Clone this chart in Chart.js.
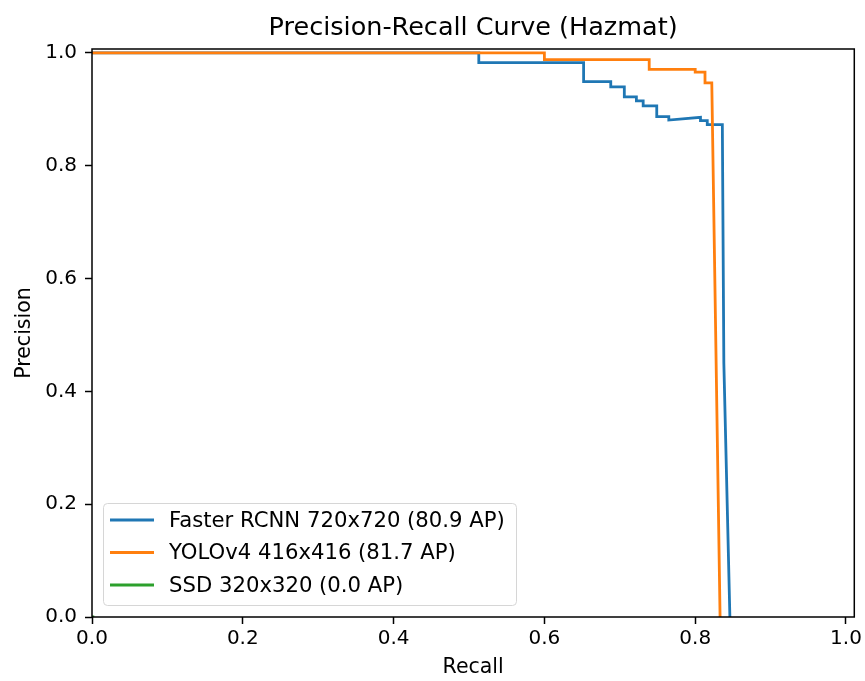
<!DOCTYPE html>
<html>
<head>
<meta charset="utf-8">
<script src="https://cdn.jsdelivr.net/npm/chart.js@4.4.1/dist/chart.umd.min.js"></script>
<style>
  body { margin: 0; background: #fff; }
  canvas { display: block; }
</style>
</head>
<body>
<canvas id="prChart" width="865" height="681"></canvas>
<script>
// Precision-Recall Curve (Hazmat)
const chartTitle = 'Precision-Recall Curve (Hazmat)';
const seriesLabels = ['Faster RCNN 720x720 (80.9 AP)', 'YOLOv4 416x416 (81.7 AP)', 'SSD 320x320 (0.0 AP)'];
const seriesColors = ['#1f77b4', '#ff7f0e', '#2ca02c'];

const fasterRecall = [0, 0.513, 0.513, 0.652, 0.652, 0.688, 0.688, 0.706, 0.706, 0.722, 0.722, 0.731, 0.731, 0.749, 0.749, 0.765, 0.765, 0.807, 0.807, 0.816, 0.816, 0.836, 0.838, 0.846];
const fasterPrecision = [1.0, 1.0, 0.983, 0.983, 0.949, 0.949, 0.940, 0.940, 0.922, 0.922, 0.915, 0.915, 0.906, 0.906, 0.887, 0.887, 0.881, 0.886, 0.880, 0.880, 0.873, 0.873, 0.45, 0];

const yoloRecall = [0, 0.600, 0.600, 0.739, 0.739, 0.800, 0.800, 0.813, 0.813, 0.822, 0.833];
const yoloPrecision = [1.0, 1.0, 0.988, 0.988, 0.971, 0.971, 0.966, 0.966, 0.947, 0.947, 0];

const ssdRecall = [0, 0.003];
const ssdPrecision = [0, 0];

const xTicks = [0, 0.2, 0.4, 0.6, 0.8, 1.0];
const yTicks = [0, 0.2, 0.4, 0.6, 0.8, 1.0];

function toPoints(xs, ys) {
  return xs.map((x, i) => ({ x, y: ys[i] }));
}

const FONT = "'DejaVu Sans', sans-serif";

// título centrado sobre a área do gráfico (como no matplotlib)
const axesTitle = {
  id: 'axesTitle',
  afterDraw(chart) {
    const { ctx, chartArea: a } = chart;
    ctx.save();
    ctx.font = '25.5px ' + FONT;
    ctx.fillStyle = '#000';
    ctx.textAlign = 'center';
    ctx.textBaseline = 'middle';
    ctx.fillText(chartTitle, (a.left + a.right) / 2, 28);
    ctx.restore();
  }
};

// moldura (spines) estilo matplotlib
const frame = {
  id: 'frame',
  afterDatasetsDraw(chart) {
    const { ctx, chartArea: a } = chart;
    ctx.save();
    ctx.strokeStyle = '#000';
    ctx.lineWidth = 1.5;
    ctx.strokeRect(a.left, a.top, a.right - a.left, a.bottom - a.top);
    ctx.restore();
  }
};

// legenda no canto inferior esquerdo
const boxLegend = {
  id: 'boxLegend',
  afterDraw(chart) {
    const { ctx, chartArea: a } = chart;
    const x0 = a.left + 11, w = 413, h = 102;
    const y0 = a.bottom - 12 - h;
    ctx.save();
    ctx.beginPath();
    ctx.roundRect(x0 + 0.5, y0 + 0.5, w, h, 4);
    ctx.fillStyle = 'rgba(255,255,255,0.8)';
    ctx.fill();
    ctx.strokeStyle = '#d6d6d6';
    ctx.lineWidth = 1;
    ctx.stroke();
    ctx.font = '21.2px ' + FONT;
    ctx.textBaseline = 'middle';
    chart.data.datasets.forEach((ds, i) => {
      const y = y0 + 17 + i * 32.5;
      ctx.strokeStyle = ds.borderColor;
      ctx.lineWidth = 2.8;
      ctx.beginPath();
      ctx.moveTo(x0 + 7, y);
      ctx.lineTo(x0 + 51, y);
      ctx.stroke();
      ctx.fillStyle = '#000';
      ctx.fillText(ds.label, x0 + 66, y + 1);
    });
    ctx.restore();
  }
};

const points = [
  toPoints(fasterRecall, fasterPrecision),
  toPoints(yoloRecall, yoloPrecision),
  toPoints(ssdRecall, ssdPrecision)
];

new Chart(document.getElementById('prChart').getContext('2d'), {
  type: 'scatter',
  data: {
    datasets: points.map((data, i) => ({
      label: seriesLabels[i],
      data,
      showLine: true,
      borderColor: seriesColors[i],
      backgroundColor: seriesColors[i],
      borderWidth: 2.8,
      pointRadius: 0,
      tension: 0,
      order: 3 - i
    }))
  },
  options: {
    responsive: false,
    animation: false,
    layout: { padding: { left: 0, right: 9, top: 49, bottom: 0 } },
    plugins: {
      legend: { display: false },
      tooltip: { enabled: false },
      title: { display: false }
    },
    scales: {
      x: {
        type: 'linear',
        min: 0,
        max: 1.011,
        afterBuildTicks: scale => { scale.ticks = xTicks.map(v => ({ value: v })); },
        afterFit: scale => { scale.height = 64; },
        border: { display: false },
        grid: { drawOnChartArea: false, drawTicks: true, tickLength: 7, tickColor: '#000', tickWidth: 1.5 },
        ticks: {
          color: '#000',
          padding: 3,
          maxRotation: 0,
          font: { family: FONT, size: 20 },
          callback: v => v.toFixed(1)
        },
        title: {
          display: true,
          text: 'Recall',
          color: '#000',
          font: { family: FONT, size: 20.5 },
          padding: { top: 1, bottom: 1 }
        }
      },
      y: {
        type: 'linear',
        min: 0,
        max: 1.007,
        afterBuildTicks: scale => { scale.ticks = yTicks.map(v => ({ value: v })); },
        afterFit: scale => { scale.width = 92; },
        border: { display: false },
        grid: { drawOnChartArea: false, drawTicks: true, tickLength: 7, tickColor: '#000', tickWidth: 1.5 },
        ticks: {
          color: '#000',
          padding: 8,
          font: { family: FONT, size: 20 },
          callback: v => v.toFixed(1)
        },
        title: {
          display: true,
          text: 'Precision',
          color: '#000',
          font: { family: FONT, size: 20.5 },
          padding: { top: 12, bottom: 12 }
        }
      }
    }
  },
  plugins: [frame, boxLegend, axesTitle]
});
</script>
</body>
</html>
